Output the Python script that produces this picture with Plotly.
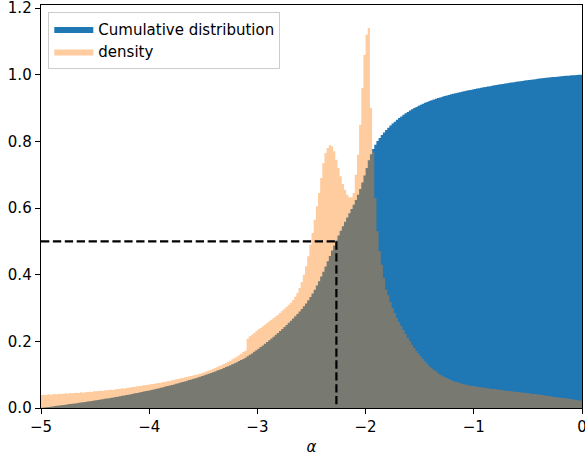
import numpy as np
import plotly.graph_objects as go

# ---- data ----
BIN_START = -5.0
BIN_WIDTH = 0.02

# density histogram heights, bins of width 0.02 from -5 to 0 (250 bins)
density = [
    0.039, 0.040, 0.039, 0.041, 0.040,
    0.041, 0.042, 0.041, 0.043, 0.042,
    0.043, 0.044, 0.043, 0.045, 0.044,
    0.045, 0.046, 0.045, 0.047, 0.046,
    0.047, 0.048, 0.049, 0.048, 0.050,
    0.050, 0.051, 0.052, 0.051, 0.053,
    0.053, 0.054, 0.055, 0.054, 0.056,
    0.057, 0.058, 0.059, 0.058, 0.060,
    0.061, 0.062, 0.063, 0.064, 0.065,
    0.066, 0.067, 0.068, 0.069, 0.070,
    0.071, 0.072, 0.073, 0.074, 0.075,
    0.076, 0.078, 0.079, 0.080, 0.081,
    0.083, 0.084, 0.086, 0.087, 0.089,
    0.090, 0.092, 0.093, 0.095, 0.096,
    0.098, 0.100, 0.101, 0.103, 0.105,
    0.107, 0.110, 0.112, 0.115, 0.117,
    0.120, 0.123, 0.126, 0.128, 0.132,
    0.135, 0.139, 0.142, 0.146, 0.150,
    0.154, 0.158, 0.163, 0.168, 0.172,
    0.208, 0.215, 0.220, 0.225, 0.231,
    0.236, 0.240, 0.245, 0.250, 0.255,
    0.260, 0.265, 0.270, 0.275, 0.280,
    0.286, 0.292, 0.298, 0.304, 0.310,
    0.316, 0.324, 0.334, 0.345, 0.360,
    0.378, 0.400, 0.425, 0.455, 0.490,
    0.525, 0.565, 0.605, 0.645, 0.690,
    0.735, 0.765, 0.780, 0.788, 0.785,
    0.770, 0.745, 0.720, 0.695, 0.672,
    0.655, 0.640, 0.632, 0.632, 0.645,
    0.700, 0.760, 0.850, 0.960, 1.060,
    1.120, 1.140, 0.900, 0.770, 0.630,
    0.530, 0.470, 0.430, 0.390, 0.355,
    0.338, 0.318, 0.300, 0.285, 0.270,
    0.258, 0.246, 0.234, 0.222, 0.210,
    0.200, 0.190, 0.180, 0.171, 0.163,
    0.155, 0.147, 0.140, 0.133, 0.125,
    0.120, 0.114, 0.110, 0.104, 0.100,
    0.097, 0.093, 0.090, 0.087, 0.084,
    0.081, 0.079, 0.077, 0.075, 0.073,
    0.071, 0.070, 0.068, 0.067, 0.066,
    0.065, 0.064, 0.063, 0.062, 0.061,
    0.060, 0.059, 0.058, 0.057, 0.057,
    0.056, 0.055, 0.054, 0.053, 0.052,
    0.052, 0.051, 0.050, 0.049, 0.049,
    0.048, 0.047, 0.046, 0.046, 0.045,
    0.044, 0.043, 0.042, 0.042, 0.041,
    0.040, 0.039, 0.038, 0.037, 0.036,
    0.035, 0.034, 0.033, 0.032, 0.031,
    0.031, 0.030, 0.029, 0.028, 0.027,
    0.026, 0.025, 0.024, 0.023, 0.022,
]

median_alpha = -2.27
median_level = 0.5

x_ticks = [-5, -4, -3, -2, -1, 0]
x_ticktext = ["\u22125", "\u22124", "\u22123", "\u22122", "\u22121", "0"]
y_ticks = [0.0, 0.2, 0.4, 0.6, 0.8, 1.0, 1.2]
y_ticktext = ["0.0", "0.2", "0.4", "0.6", "0.8", "1.0", "1.2"]

# ---- derived histogram quantities ----
dens = np.array(density)
edges = np.round(BIN_START + BIN_WIDTH * np.arange(len(dens) + 1), 4)
cum = np.cumsum(dens * BIN_WIDTH)
cum = cum / cum[-1]

step_x = list(edges)
dens_y = list(dens) + [dens[-1]]
cum_y = list(cum) + [cum[-1]]

FONT = "DejaVu Sans"
FS = 15

fig = go.Figure()
fig.add_trace(go.Scatter(
    x=step_x, y=cum_y, mode="lines", line=dict(width=0, shape="hv", color="#1f77b4"),
    fill="tozeroy", fillcolor="#1f77b4", name="Cumulative distribution", hoverinfo="skip",
))
fig.add_trace(go.Scatter(
    x=step_x, y=dens_y, mode="lines", line=dict(width=0, shape="hv", color="rgba(255,127,14,0.4)"),
    fill="tozeroy", fillcolor="rgba(255,127,14,0.4)", name="density", hoverinfo="skip",
))
fig.add_trace(go.Scatter(
    x=[x_ticks[0], median_alpha], y=[median_level, median_level], mode="lines",
    line=dict(color="black", width=2.2, dash="8.3px,3.6px"), showlegend=False, hoverinfo="skip",
))
fig.add_trace(go.Scatter(
    x=[median_alpha, median_alpha], y=[median_level, 0], mode="lines",
    line=dict(color="black", width=2.2, dash="8.3px,3.6px"), showlegend=False, hoverinfo="skip",
))

axis_common = dict(
    showline=True, linecolor="black", linewidth=1.2, mirror=True,
    ticks="outside", ticklen=5.2, tickwidth=1.2, tickcolor="black",
    showgrid=False, zeroline=False, automargin=False,
    ticklabeloverflow="allow",
    tickfont=dict(family=FONT, size=FS, color="black"),
)

fig.update_layout(
    width=585, height=456,
    margin=dict(l=41, r=3, t=5, b=48, pad=0),
    paper_bgcolor="white", plot_bgcolor="white",
    font=dict(family=FONT, size=FS, color="black"),
    xaxis=dict(range=[-5, 0], tickvals=x_ticks, ticktext=x_ticktext,
               title=dict(text="<i>\u03b1</i>", font=dict(family=FONT, size=FS), standoff=8),
               **axis_common),
    yaxis=dict(range=[0, 1.209], tickvals=y_ticks, ticktext=y_ticktext, **axis_common),
    legend=dict(x=0.0135, y=0.983, xanchor="left", yanchor="top", itemwidth=39,
                bgcolor="rgba(255,255,255,0.8)", bordercolor="#cccccc", borderwidth=1,
                font=dict(family=FONT, size=FS, color="black")),
    showlegend=True,
)

fig.write_html(
    "out.html",
    config={"displayModeBar": False},
    post_script="document.body.style.margin='0';document.body.style.overflow='hidden';",
)
